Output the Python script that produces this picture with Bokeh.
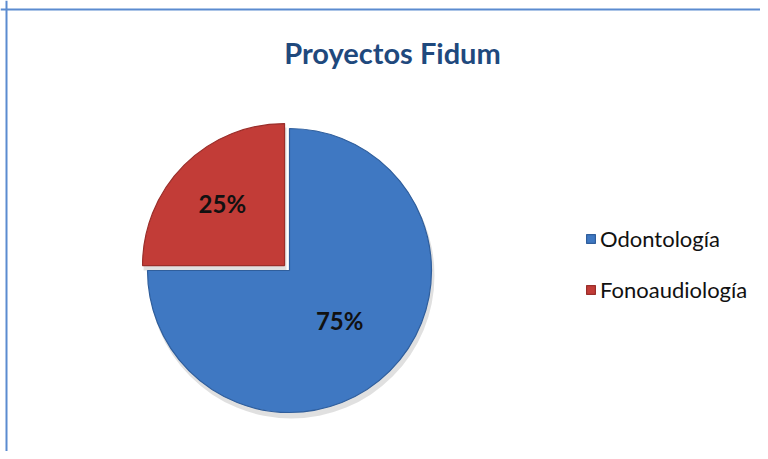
import numpy as np
from bokeh.plotting import figure
from bokeh.models import ColumnDataSource, Range1d, Legend, LegendItem, Span, Label
from bokeh.core.properties import value
from bokeh.embed import file_html
from bokeh.resources import INLINE

# ---- data ----
categories = ["Odontología", "Fonoaudiología"]
shares = [75, 25]
slice_labels = ["75%", "25%"]
colors = ["#3f78c2", "#c23c37"]
edge_colors = ["#2f5e9c", "#9a2e2a"]
explode = [0, 7]
title_text = "Proyectos Fidum"

W, H = 760, 451
p = figure(width=W, height=H, output_backend="svg", toolbar_location=None,
           x_range=Range1d(0, W), y_range=Range1d(0, H), min_border=0)
p.axis.visible = False
p.grid.visible = False
p.outline_line_color = None
p.background_fill_color = "white"
p.border_fill_color = "white"

# frame border (top and left only visible in the reference)
p.add_layout(Span(location=6, dimension="height", line_color="#5b8bd0", line_width=2))
p.add_layout(Span(location=H - 9, dimension="width", line_color="#5b8bd0", line_width=2))

cx, cy, r = 289, 181, 142
total = float(sum(shares))
fr = np.array(shares) / total
cum_end = np.cumsum(fr)
cum_start = cum_end - fr
start = np.pi / 2 - cum_end * 2 * np.pi
end = np.pi / 2 - cum_start * 2 * np.pi
mid = (start + end) / 2
ex = np.array(explode, dtype=float)
xs = cx + ex * np.cos(mid)
ys = cy + ex * np.sin(mid)
label_r = np.array([0.50, 0.62]) * r + ex
lx = cx + label_r * np.cos(mid)
ly = cy + label_r * np.sin(mid)

src = ColumnDataSource(dict(cat=categories, val=shares, lab=slice_labels,
                            color=colors, edge=edge_colors,
                            x=xs, y=ys, start=start, end=end, lx=lx, ly=ly,
                            sx=xs + 2, sy=ys - 5))

# soft shadow
p.wedge(x="sx", y="sy", radius=r + 1, start_angle="start", end_angle="end",
        source=src, fill_color="#000000", fill_alpha=0.12, line_color=None)
wr = p.wedge(x="x", y="y", radius=r, start_angle="start", end_angle="end",
             source=src, fill_color="color", line_color="edge", line_width=1.2)

p.text(x="lx", y="ly", text="lab", source=src, text_align="center",
       text_baseline="middle", text_font=value("Lato"), text_font_style="bold",
       text_font_size="24px", text_color="#111111")

p.add_layout(Label(x=W / 2 + 12, y=H - 52, text=title_text, text_align="center",
                   text_baseline="middle", text_font="Lato", text_font_style="bold",
                   text_font_size="29px", text_color="#1f497d"))

legend = Legend(items=[LegendItem(label=categories[i], renderers=[wr], index=i)
                       for i in range(len(categories))],
                location=(585, 148), orientation="vertical",
                glyph_width=11, glyph_height=11, spacing=24, label_standoff=4,
                label_text_font="Lato", label_text_font_size="22px",
                label_text_color="#111111", border_line_color=None,
                background_fill_alpha=0, padding=0, margin=0)
p.add_layout(legend)

open("out.html", "w").write(file_html(p, INLINE))
